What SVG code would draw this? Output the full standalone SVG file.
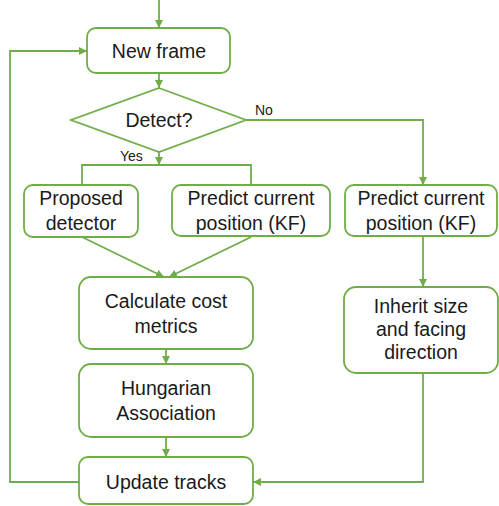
<svg xmlns="http://www.w3.org/2000/svg" width="499" height="506" viewBox="0 0 499 506">
  <style>
    .box { fill: #ffffff; stroke: #70AD47; stroke-width: 1.8; }
    .line { fill: none; stroke: #70AD47; stroke-width: 1.8; }
    .t { font-family: "Liberation Sans", Arial, sans-serif; font-size: 19.5px; fill: #1a1a1a; text-anchor: middle; }
    .s { font-family: "Liberation Sans", Arial, sans-serif; font-size: 14px; fill: #1a1a1a; }
  </style>
  <defs>
    <marker id="arr" viewBox="0 0 10 10" refX="10" refY="5" markerWidth="8" markerHeight="8" markerUnits="userSpaceOnUse" orient="auto">
      <path d="M0,0 L10,5 L0,10 Z" fill="#70AD47"/>
    </marker>
  </defs>
  <rect width="499" height="506" fill="#ffffff"/>

  <g id="connectors">
    <line class="line" x1="159" y1="0" x2="159" y2="28" marker-end="url(#arr)"/>
    <line class="line" x1="159" y1="73" x2="159" y2="88" marker-end="url(#arr)"/>
    <line class="line" x1="159" y1="152" x2="159" y2="165" marker-end="url(#arr)"/>
    <polyline class="line" points="82,185 82,165 251,165 251,185"/>
    <polyline class="line" points="246,120 423,120 423,185" marker-end="url(#arr)"/>
    <line class="line" x1="82" y1="237" x2="164" y2="277" marker-end="url(#arr)"/>
    <line class="line" x1="251" y1="237" x2="169" y2="277" marker-end="url(#arr)"/>
    <line class="line" x1="166" y1="349" x2="166" y2="364" marker-end="url(#arr)"/>
    <line class="line" x1="166" y1="437" x2="166" y2="457" marker-end="url(#arr)"/>
    <line class="line" x1="423" y1="236" x2="423" y2="287" marker-end="url(#arr)"/>
    <polyline class="line" points="423,373 423,482 253,482" marker-end="url(#arr)"/>
    <polyline class="line" points="79,482 10,482 10,51 87,51" marker-end="url(#arr)"/>
    <text class="s" x="120" y="161">Yes</text>
    <text class="s" x="255" y="115">No</text>
  </g>

  <g id="new-frame">
    <rect class="box" x="87" y="28" width="143" height="45" rx="9"/>
    <text class="t" x="159" y="58">New frame</text>
  </g>

  <g id="detect">
    <polygon class="box" points="159,88 246,120 159,152 71,120"/>
    <text class="t" x="159" y="127">Detect?</text>
  </g>

  <g id="proposed-detector">
    <rect class="box" x="24" y="185" width="114" height="52" rx="9"/>
    <text class="t" x="81" y="205">Proposed</text>
    <text class="t" x="81" y="230">detector</text>
  </g>

  <g id="predict-left">
    <rect class="box" x="172" y="185" width="158" height="51" rx="9"/>
    <text class="t" x="251" y="205">Predict current</text>
    <text class="t" x="251" y="230">position (KF)</text>
  </g>

  <g id="predict-right">
    <rect class="box" x="345" y="185" width="152" height="51" rx="9"/>
    <text class="t" x="421" y="205">Predict current</text>
    <text class="t" x="421" y="230">position (KF)</text>
  </g>

  <g id="cost-metrics">
    <rect class="box" x="79" y="277" width="174" height="72" rx="12"/>
    <text class="t" x="166" y="308">Calculate cost</text>
    <text class="t" x="166" y="333">metrics</text>
  </g>

  <g id="hungarian">
    <rect class="box" x="79" y="364" width="174" height="73" rx="12"/>
    <text class="t" x="166" y="395">Hungarian</text>
    <text class="t" x="166" y="420">Association</text>
  </g>

  <g id="update-tracks">
    <rect class="box" x="79" y="457" width="174" height="47" rx="9"/>
    <text class="t" x="166" y="489">Update tracks</text>
  </g>

  <g id="inherit">
    <rect class="box" x="344" y="287" width="154" height="86" rx="12"/>
    <text class="t" x="421" y="313">Inherit size</text>
    <text class="t" x="421" y="336">and facing</text>
    <text class="t" x="421" y="359">direction</text>
  </g>
</svg>
